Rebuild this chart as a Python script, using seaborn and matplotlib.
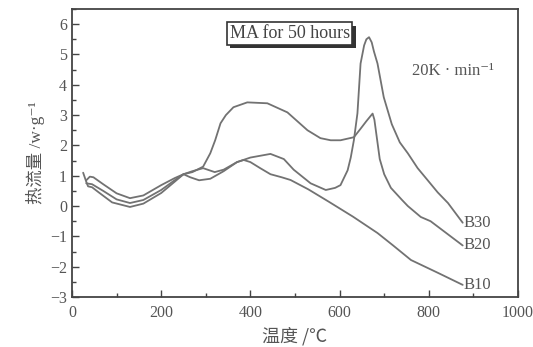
import numpy as np
import pandas as pd
import matplotlib
matplotlib.use("Agg")
import matplotlib.pyplot as plt
import matplotlib.patheffects as pe
from matplotlib.ticker import MultipleLocator
import seaborn as sns

# ---- data ----
b10_T = [25, 32, 36, 45, 60, 90, 130, 160, 200, 230, 250, 265, 285, 310, 340, 370, 385,
         400, 422, 445, 470, 490, 530, 575, 630, 685, 720, 760, 820, 876]
b10_v = [1.10, 0.80, 0.65, 0.62, 0.45, 0.12, -0.03, 0.08, 0.43, 0.80, 1.05, 0.95, 0.85,
         0.90, 1.15, 1.45, 1.52, 1.45, 1.25, 1.05, 0.95, 0.86, 0.55, 0.15, -0.35, -0.89,
         -1.30, -1.78, -2.20, -2.60]

b20_T = [32, 40, 48, 70, 100, 130, 160, 200, 230, 250, 270, 294, 310, 321, 333, 345, 362,
         393, 438, 483, 528, 557, 580, 602, 632, 647, 660, 670, 674, 678, 684, 690, 700,
         715, 740, 753, 782, 804, 840, 876]
b20_v = [0.85, 0.97, 0.95, 0.72, 0.42, 0.26, 0.35, 0.69, 0.92, 1.05, 1.12, 1.30, 1.74,
         2.17, 2.73, 3.00, 3.26, 3.42, 3.39, 3.09, 2.50, 2.24, 2.17, 2.17, 2.27, 2.55,
         2.80, 2.98, 3.05, 2.85, 2.20, 1.55, 1.05, 0.60, 0.20, 0.00, -0.36, -0.50, -0.90,
         -1.30]

b30_T = [32, 45, 70, 100, 130, 160, 200, 230, 250, 270, 294, 320, 340, 370, 400, 445, 475,
         497, 535, 569, 590, 602, 618, 625, 632, 640, 647, 655, 660, 666, 672, 677, 685,
         699, 717, 735, 753, 775, 797, 820, 843, 876]
b30_v = [0.75, 0.72, 0.50, 0.22, 0.10, 0.20, 0.53, 0.85, 1.05, 1.15, 1.25, 1.12, 1.20,
         1.45, 1.60, 1.72, 1.55, 1.20, 0.75, 0.53, 0.60, 0.69, 1.18, 1.60, 2.17, 3.06,
         4.70, 5.30, 5.50, 5.57, 5.40, 5.10, 4.70, 3.59, 2.70, 2.10, 1.74, 1.25, 0.86,
         0.45, 0.10, -0.55]

series_names = ["B10", "B20", "B30"]
x_ticks = [0, 200, 400, 600, 800, 1000]
y_ticks = [-3, -2, -1, 0, 1, 2, 3, 4, 5, 6]

frames = []
for name, T, v in zip(series_names, [b10_T, b20_T, b30_T], [b10_v, b20_v, b30_v]):
    frames.append(pd.DataFrame({"T": T, "v": v, "sample": name}))
df = pd.concat(frames, ignore_index=True)

sns.set_style("ticks")
plt.rcParams["font.family"] = ["Liberation Serif", "DejaVu Serif"]

fig = plt.figure(figsize=(5.33, 3.47), dpi=100)
ax = fig.add_axes([72 / 533, 50 / 347, (518 - 72) / 533, (297 - 9) / 347])

line_col = "#727272"
sns.lineplot(data=df, x="T", y="v", hue="sample", units="sample", estimator=None,
             sort=False, palette={n: line_col for n in series_names}, linewidth=1.3,
             legend=False, ax=ax)

ax.set_xlim(0, 1000)
ax.set_ylim(-3, 6.5)
ax.set_xticks(x_ticks)
ax.set_yticks(y_ticks)
ax.xaxis.set_minor_locator(MultipleLocator(100))
ax.yaxis.set_minor_locator(MultipleLocator(0.5))
ax.tick_params(which="major", direction="in", length=5, width=1, colors="#444444",
               labelcolor="#555555", labelsize=11.5)
ax.tick_params(which="minor", direction="in", length=3, width=1, colors="#444444")
ax.tick_params(axis="x", pad=6)
ax.set_yticklabels([str(t).replace("-", "\u2212") for t in y_ticks])
for s in ax.spines.values():
    s.set_color("#444444")
    s.set_linewidth(1.3)

lab_fam = ["Liberation Serif", "Noto Sans CJK SC", "DejaVu Sans"]
ax.set_xlabel("温度 /℃", family=["Noto Sans CJK SC", "DejaVu Sans"], fontsize=13,
              color="#555555", labelpad=4)
ax.set_ylabel("热流量 /w·g⁻¹", family=lab_fam, fontsize=12.5, color="#555555",
              labelpad=4)

# annotation box with drop shadow
t = ax.text(0.488, 0.915, "MA for 50 hours", transform=ax.transAxes, ha="center",
            va="center", fontsize=13, color="#444444",
            bbox=dict(boxstyle="square,pad=0.15", fc="white", ec="#333333", lw=1.2))
t.get_bbox_patch().set_path_effects([
    pe.SimplePatchShadow(offset=(2.5, -2.5), shadow_rgbFace="#333333", alpha=1.0),
    pe.Normal()])

ax.text(0.762, 0.785, "20K · min⁻¹", transform=ax.transAxes, fontsize=12,
        color="#555555", family=["Liberation Serif", "DejaVu Sans"], va="center")

# end labels
for name, T, v in zip(series_names, [b10_T, b20_T, b30_T], [b10_v, b20_v, b30_v]):
    ax.text(T[-1] + 2, v[-1], name, fontsize=12, color="#555555", va="center", ha="left")

fig.savefig("out.png", dpi=100, facecolor="white")
